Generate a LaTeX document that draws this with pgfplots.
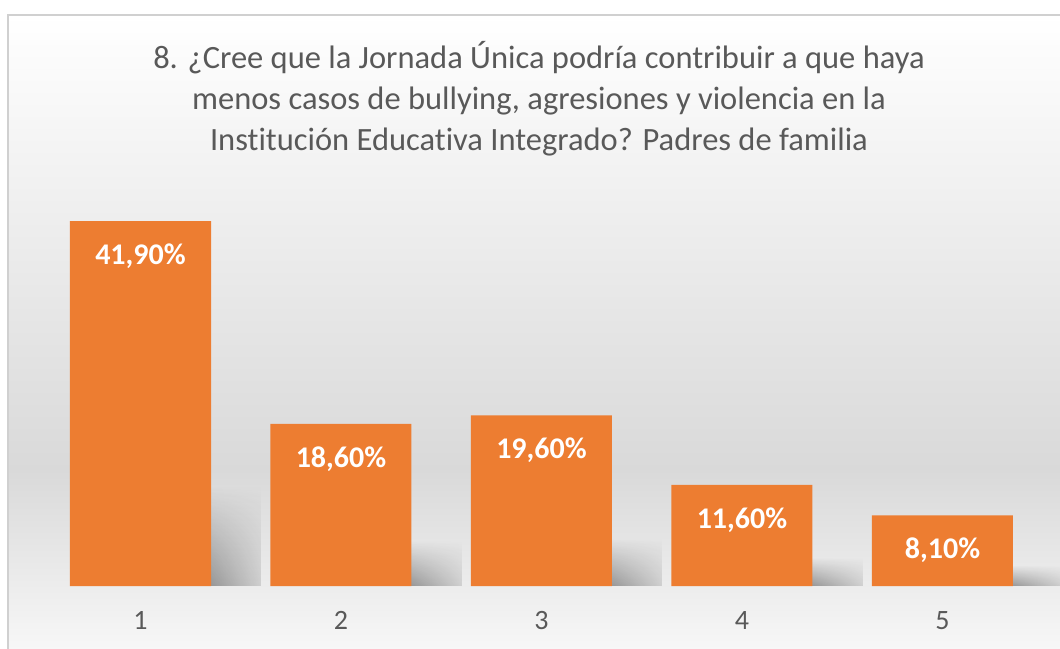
\documentclass[border=0pt]{standalone}
\usepackage{pgfplots}
\pgfplotsset{compat=1.18}
\usepackage{fontspec}
\setmainfont{Carlito}[Ligatures=NoCommon]
\usetikzlibrary{fadings,shadings}
\definecolor{barorange}{HTML}{ED7D31}
\definecolor{txtgray}{HTML}{595959}
\definecolor{bggray}{HTML}{D9D9D9}
\definecolor{bglight}{HTML}{F8F8F8}
\definecolor{bordergray}{HTML}{D0D0D0}
\tikzfading[name=shadowfade, upper left=transparent!100, upper right=transparent!100,
  lower left=transparent!0, lower right=transparent!90]
\begin{document}
\begin{tikzpicture}
% page frame (image coords mapped: x-40.25, 586-y)
\path[use as bounding box] (-40.25bp,-63bp) rectangle (1019.75bp,586bp);
\fill[white] (-40.25bp,-63bp) rectangle (1019.75bp,586bp);
\shade[top color=white, bottom color=bggray, draw=none] (-32.25bp,116bp) rectangle (1030bp,571bp);
\shade[top color=bggray, bottom color=bglight, draw=none] (-32.25bp,-70bp) rectangle (1030bp,116.5bp);
\draw[bordergray, line width=1.5bp] (-32.25bp,-80bp) -- (-32.25bp,571bp) -- (1040bp,571bp);
\node[align=center, text=txtgray, font=\fontsize{32.5bp}{41bp}\selectfont] at (498.75bp,487bp)
 {8. ¿Cree que la Jornada Única podría contribuir a que haya\\
  menos casos de bullying, agresiones y violencia en la\\
  Institución Educativa Integrado? Padres de familia};
\begin{axis}[
  at={(0,0)}, anchor=south west,
  scale only axis,
  width=1002.5bp, height=392bp,
  xmin=0.5, xmax=5.5, ymin=0, ymax=45,
  axis line style={draw=none},
  major tick length=0pt,
  ytick=\empty,
  xtick={1,2,3,4,5},
  xticklabels={1,2,3,4,5},
  xticklabel style={text=txtgray, font=\fontsize{28bp}{30bp}\selectfont, yshift=-22bp},
  /pgf/number format/assume math mode=true,
  clip=false,
  shadowbar/.style={ybar, bar width=141bp, bar shift=50bp, draw=none, fill=black,
    fill opacity=0.75, path fading=shadowfade, forget plot},
]
% soft shadows behind the bars (one plot each, so each fades on its own)
\addplot[shadowbar] coordinates {(1,11.5)};
\addplot[shadowbar] coordinates {(2,5.2)};
\addplot[shadowbar] coordinates {(3,5.5)};
\addplot[shadowbar] coordinates {(4,3.3)};
\addplot[shadowbar] coordinates {(5,2.4)};
\addplot[ybar, bar width=141bp, bar shift=0bp, draw=none, fill=barorange,
  point meta=explicit symbolic,
  nodes near coords,
  every node near coord/.append style={anchor=center, yshift=-35bp, text=white,
    font=\fontsize{30bp}{32bp}\selectfont\bfseries}]
  coordinates {(1,41.9) [41,90\%] (2,18.6) [18,60\%] (3,19.6) [19,60\%] (4,11.6) [11,60\%] (5,8.1) [8,10\%]};
\end{axis}
\end{tikzpicture}
\end{document}
